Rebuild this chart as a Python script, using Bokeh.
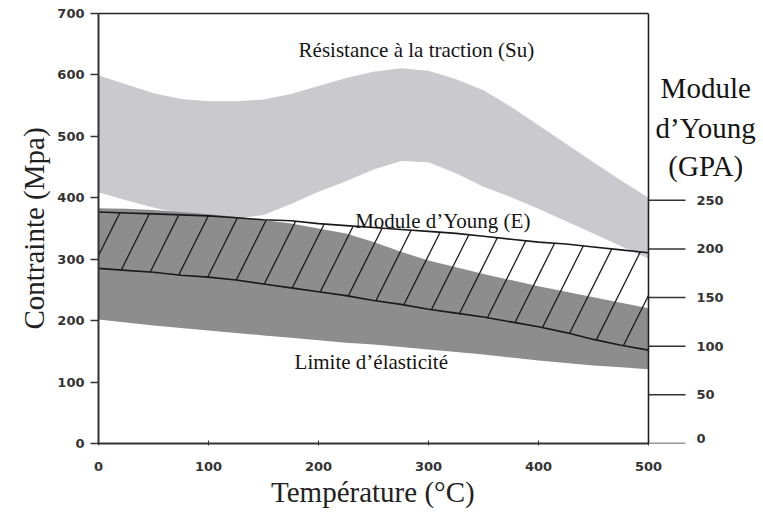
from bokeh.plotting import figure
from bokeh.models import Range1d, LinearAxis, FixedTicker, Label, Span, Title
from bokeh.embed import file_html
from bokeh.resources import INLINE

# ---- data ----
temperature = [0, 25, 50, 75, 100, 125, 150, 175, 200, 225, 250, 275, 300, 325, 350, 375, 400, 425, 450, 475, 500]

# Résistance à la traction (Su), MPa: band
su_upper = [599, 585, 570, 561, 557, 557, 560, 569, 582, 595, 605, 611, 607, 593, 575, 548, 518, 488, 458, 428, 400]
su_lower = [409, 396, 384, 374, 368, 366, 372, 390, 410, 427, 446, 460, 458, 440, 418, 401, 382, 362, 342, 321, 301]

# Limite d'élasticité, MPa: band
ys_upper = [383, 382, 380, 377, 373, 369, 364, 358, 350, 342, 328, 312, 298, 287, 276, 266, 256, 247, 238, 229, 220]
ys_lower = [202, 197, 192, 188, 184, 180, 176, 172, 168, 164, 161, 157, 153, 149, 145, 140, 135, 131, 127, 124, 121]

# Module d'Young (E), GPa: band
e_upper = [238, 237, 236, 235, 234, 232, 230, 229, 226, 224, 222, 220, 218, 216, 213, 210, 207, 205, 202, 199, 196]
e_lower = [180, 178, 176, 173, 171, 168, 164, 160, 156, 152, 147, 143, 138, 134, 130, 125, 120, 114, 107, 101, 96]

x_ticks = [0, 100, 200, 300, 400, 500]
mpa_ticks = [0, 100, 200, 300, 400, 500, 600, 700]
gpa_ticks = [0, 50, 100, 150, 200, 250]
gpa_tick_labels = [str(t) for t in gpa_ticks]

x_title = "Température (°C)"
y_title = "Contrainte (Mpa)"
label_su = "Résistance à la traction (Su)"
label_e = "Module d\u2019Young (E)"
label_ys = "Limite d\u2019élasticité"
right_title = ["Module", "d\u2019Young", "(GPA)"]

SERIF = "Liberation Serif"
SANS = "DejaVu Sans"
INK = "#222222"

# ---- layout: the frame extends past 500 °C so the right-hand scale and its title fit ----
W, H = 763, 510
BL, BR, BT, BB = 98, 3, 13, 67
frame_w = W - BL - BR
PX_PER_DEG = 550 / 500.0          # 500 °C of temperature span 550 px
x_end = frame_w / PX_PER_DEG
t_max = max(temperature)

p = figure(width=W, height=H, output_backend="svg", toolbar_location=None,
           x_range=Range1d(0, x_end), y_range=Range1d(0, 700),
           min_border_left=BL, min_border_right=BR, min_border_top=BT, min_border_bottom=BB)
p.extra_y_ranges = {"gpa": Range1d(0, 442)}

p.xgrid.visible = False
p.ygrid.visible = False
p.outline_line_color = None
p.background_fill_color = "white"
p.border_fill_color = "white"

# bands
p.varea(x=temperature, y1=su_lower, y2=su_upper, fill_color="#c9c9ce")
p.varea(x=temperature, y1=ys_lower, y2=ys_upper, fill_color="#8d8d8d")
p.varea(x=temperature, y1=e_lower, y2=e_upper, fill_alpha=0, y_range_name="gpa",
        hatch_pattern="/", hatch_color="#1a1a1a", hatch_scale=60, hatch_weight=1.3)
p.line(x=temperature, y=e_upper, y_range_name="gpa", line_color="#1a1a1a", line_width=1.6)
p.line(x=temperature, y=e_lower, y_range_name="gpa", line_color="#1a1a1a", line_width=1.6)

# bottom axis (stops at 500 °C)
xa = p.xaxis[0]
xa.bounds = (0, t_max)
xa.ticker = FixedTicker(ticks=x_ticks)
xa.major_label_text_font = SANS
xa.major_label_text_font_style = "bold"
xa.major_label_text_font_size = "13px"
xa.major_label_text_color = "#333333"
xa.major_label_standoff = 16
xa.major_tick_in = 3
xa.major_tick_out = 2
xa.minor_tick_line_color = None
xa.axis_line_width = 2
xa.axis_line_color = "#333333"
xa.major_tick_line_color = "#333333"

# x title, centred under the 0..500 °C span
x_title_size = 29
x_title_width = 0.48 * x_title_size * len(x_title) * 0.92
p.add_layout(Title(text=x_title, align="left", offset=t_max * PX_PER_DEG / 2 - x_title_width / 2,
                   text_font=SERIF, text_font_size=f"{x_title_size}px", text_font_style="normal",
                   text_color=INK, standoff=0), "below")

# top border line (0..500 °C)
top = LinearAxis(ticker=FixedTicker(ticks=[]), bounds=(0, t_max))
top.major_tick_in = 0
top.major_tick_out = 0
top.minor_tick_line_color = None
top.major_label_standoff = 0
top.axis_line_width = 1.6
top.axis_line_color = INK
p.add_layout(top, "above")

# left axis
ya = p.yaxis[0]
ya.ticker = FixedTicker(ticks=mpa_ticks)
ya.axis_label = y_title
ya.axis_label_text_font = SERIF
ya.axis_label_text_font_size = "29px"
ya.axis_label_text_font_style = "normal"
ya.axis_label_text_color = INK
ya.axis_label_standoff = 4
ya.major_label_text_font = SANS
ya.major_label_text_font_style = "bold"
ya.major_label_text_font_size = "13px"
ya.major_label_text_color = "#333333"
ya.major_label_standoff = 6
ya.major_tick_in = 0
ya.major_tick_out = 8
ya.major_tick_line_width = 1.5
ya.minor_tick_line_color = None
ya.axis_line_width = 2
ya.axis_line_color = "#333333"
ya.major_tick_line_color = "#333333"

# right-hand scale (Module d'Young, GPa) drawn at 500 °C
p.add_layout(Span(location=t_max, dimension="height", line_color=INK, line_width=1.6))
tick_len = 37 / PX_PER_DEG
label_gap = 11 / PX_PER_DEG
n = len(gpa_ticks)
p.segment(x0=[t_max] * n, y0=gpa_ticks, x1=[t_max + tick_len] * n, y1=gpa_ticks,
          y_range_name="gpa", line_color="#333333", line_width=1.5)
nudge = [-5 if t == 0 else 0 for t in gpa_ticks]   # keep the "0" label inside the frame
p.text(x=[t_max + tick_len + label_gap] * n, y=gpa_ticks, text=gpa_tick_labels, y_offset=nudge,
       y_range_name="gpa", text_font={"value": SANS}, text_font_style="bold",
       text_font_size="13px", text_color="#333333", text_align="left", text_baseline="middle")

# annotations (data units)
def add_text(x, y, text, size):
    p.add_layout(Label(x=x, y=y, text=text, text_font=SERIF, text_font_size=size,
                       text_color="#151515", text_align="center", text_baseline="middle"))

add_text(289, 640, label_su, "21px")
add_text(313, 362, label_e, "21px")
add_text(248, 132, label_ys, "21px")

for t, yv in zip(right_title, [578, 514, 451]):
    add_text(552, yv, t, "29px")

open("out.html", "w").write(file_html(p, INLINE))
